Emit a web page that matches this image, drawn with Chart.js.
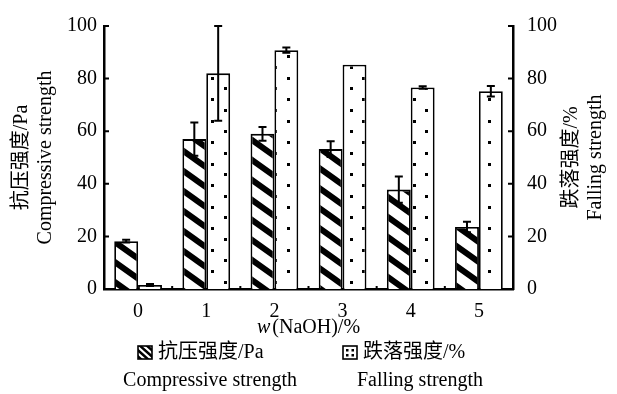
<!DOCTYPE html>
<html><head><meta charset="utf-8">
<script src="https://cdn.jsdelivr.net/npm/chart.js@4/dist/chart.umd.min.js"></script>
<style>html,body{margin:0;padding:0;background:#fff}#wrap{width:617px;height:394px}</style>
</head><body><div id="wrap"><canvas id="c" width="617" height="394"></canvas></div>
<script>
const categories = ['0', '1', '2', '3', '4', '5'];
const compressive = [18.2, 57, 59, 53.2, 37.8, 23.6];
const compressiveErr = [0.5, 6.3, 2.6, 3, 5, 2];
const falling = [1.5, 82, 90.8, 85.3, 76.6, 75.2];
const fallingErr = [0.4, 18, 1, 0, 0.5, 2];
const yTicks = [0, 20, 40, 60, 80, 100];
const compressiveName = ['抗压强度/Pa', 'Compressive strength'];
const fallingName = ['跌落强度/%', 'Falling strength'];
const xTitleItalic = 'w';
const xTitleRest = '(NaOH)/%';

const FONT = "'Liberation Serif', 'Noto Sans CJK SC', serif";

function hatchPattern() {
  const W = 28, H = 20;
  const cv = document.createElement('canvas');
  cv.width = W; cv.height = H;
  const g = cv.getContext('2d');
  g.fillStyle = '#fff'; g.fillRect(0, 0, W, H);
  g.strokeStyle = '#000'; g.lineWidth = 6;
  g.beginPath();
  for (let k = -1; k <= 1; k++) { g.moveTo(-2, k * H - 2 * H / W); g.lineTo(W + 2, (k + 1) * H + 2 * H / W); }
  g.stroke();
  return g.createPattern(cv, 'repeat');
}
const hatch = hatchPattern();

function drawDots(ctx, l, t, r, b) {
  const colStep = 12.6, rowStep = 21.5, x0 = 212, y0 = 56;
  ctx.save();
  ctx.beginPath(); ctx.rect(l, t, r - l, b - t); ctx.clip();
  ctx.fillStyle = '#000';
  const kStart = Math.floor((l - x0) / colStep) - 1, kEnd = Math.ceil((r - x0) / colStep) + 1;
  for (let k = kStart; k <= kEnd; k++) {
    const x = Math.round(x0 + k * colStep);
    const off = (Math.abs(k) % 2) ? rowStep / 2 : 0;
    const mStart = Math.floor((t - y0 - off) / rowStep) - 1, mEnd = Math.ceil((b - y0 - off) / rowStep) + 1;
    for (let m = mStart; m <= mEnd; m++) {
      const y = Math.round(y0 + off + m * rowStep);
      ctx.fillRect(x - 1, y - 1, 3, 3);
    }
  }
  ctx.restore();
}

const deco = {
  id: 'deco',
  afterDatasetsDraw(chart) {
    const ctx = chart.ctx;
    const fm = chart.getDatasetMeta(1);
    fm.data.forEach(bar => {
      const p = bar.getProps(['x', 'y', 'base', 'width'], true);
      const bw = 1.8;
      drawDots(ctx, p.x - p.width / 2 + bw, p.y + bw, p.x + p.width / 2 - bw, p.base);
    });
    const sets = [[0, compressive, compressiveErr, chart.scales.y], [1, falling, fallingErr, chart.scales.y1]];
    ctx.save();
    ctx.strokeStyle = '#000'; ctx.lineWidth = 2;
    sets.forEach(([di, vals, errs, sc]) => {
      const meta = chart.getDatasetMeta(di);
      meta.data.forEach((bar, i) => {
        const e = errs[i]; if (!e) return;
        const yt = sc.getPixelForValue(vals[i] + e), yb = sc.getPixelForValue(vals[i] - e);
        ctx.beginPath();
        ctx.moveTo(bar.x, yt); ctx.lineTo(bar.x, yb);
        ctx.moveTo(bar.x - 4, yt); ctx.lineTo(bar.x + 4, yt);
        ctx.moveTo(bar.x - 4, yb); ctx.lineTo(bar.x + 4, yb);
        ctx.stroke();
      });
    });
    ctx.restore();
  },
  afterDraw(chart) {
    const ctx = chart.ctx, ca = chart.chartArea;
    const yL = chart.scales.y, yR = chart.scales.y1, xs = chart.scales.x;
    ctx.save();
    ctx.strokeStyle = '#000'; ctx.lineWidth = 2;
    ctx.beginPath();
    yTicks.forEach(v => {
      const p = yL.getPixelForValue(v);
      ctx.moveTo(ca.left, p); ctx.lineTo(ca.left + 5, p);
      const q = yR.getPixelForValue(v);
      ctx.moveTo(ca.right, q); ctx.lineTo(ca.right - 5, q);
    });
    const half = (xs.getPixelForValue(1) - xs.getPixelForValue(0)) / 2;
    for (let i = 0; i < categories.length - 1; i++) {
      const px = xs.getPixelForValue(i) + half;
      ctx.moveTo(px, ca.bottom); ctx.lineTo(px, ca.bottom - 3);
    }
    ctx.stroke();

    ctx.fillStyle = '#000';
    ctx.font = '20px ' + FONT;
    ctx.textAlign = 'center'; ctx.textBaseline = 'middle';
    const midY = (ca.top + ca.bottom) / 2;
    [[compressiveName[0], ca.left - 82], [compressiveName[1], ca.left - 58],
     [fallingName[0], ca.right + 59], [fallingName[1], ca.right + 83]].forEach(([t, x]) => {
      ctx.save(); ctx.translate(x, midY); ctx.rotate(-Math.PI / 2); ctx.fillText(t, 0, 0); ctx.restore();
    });
    const cx = (ca.left + ca.right) / 2, ty = ca.bottom + 39;
    ctx.font = 'italic 20px ' + FONT;
    const wi = ctx.measureText(xTitleItalic).width;
    ctx.font = '20px ' + FONT;
    const wr = ctx.measureText(xTitleRest).width;
    const x0 = cx - (wi + wr + 2) / 2;
    ctx.textAlign = 'left';
    ctx.font = 'italic 20px ' + FONT;
    ctx.fillText(xTitleItalic, x0, ty);
    ctx.font = '20px ' + FONT;
    ctx.fillText(xTitleRest, x0 + wi + 2, ty);

    const ly = ca.bottom + 64, ly2 = ca.bottom + 92;
    const items = [[compressiveName, 138, 210], [fallingName, 343, 420]];
    items.forEach(([names, sx, c2], k) => {
      const sy = ly - 7;
      ctx.fillStyle = '#fff'; ctx.fillRect(sx, sy, 14, 13);
      if (k === 0) {
        ctx.save(); ctx.beginPath(); ctx.rect(sx, sy, 14, 13); ctx.clip();
        ctx.strokeStyle = '#000'; ctx.lineWidth = 2.5; ctx.beginPath();
        for (let d = -12; d <= 12; d += 7) { ctx.moveTo(sx + d - 2, sy - 2); ctx.lineTo(sx + d + 17, sy + 15); }
        ctx.stroke(); ctx.restore();
      } else {
        ctx.fillStyle = '#000';
        [[3, 3], [8.5, 3], [3, 8], [8.5, 8]].forEach(([dx, dy]) => ctx.fillRect(sx + dx, sy + dy, 2.5, 2.5));
      }
      ctx.strokeStyle = '#000'; ctx.lineWidth = 1.6;
      ctx.strokeRect(sx, sy, 14, 13);
      ctx.fillStyle = '#000';
      ctx.textAlign = 'left';
      ctx.fillText(names[0], sx + 20, ly);
      ctx.textAlign = 'center';
      ctx.fillText(names[1], c2, ly2);
    });
    ctx.restore();
  }
};

new Chart(document.getElementById('c'), {
  type: 'bar',
  data: {
    labels: categories,
    datasets: [
      { label: compressiveName.join(' '), data: compressive, yAxisID: 'y', backgroundColor: hatch, borderColor: '#000', borderWidth: 1.8, categoryPercentage: 0.7, barPercentage: 1.0 },
      { label: fallingName.join(' '), data: falling, yAxisID: 'y1', backgroundColor: '#fff', borderColor: '#000', borderWidth: 1.8, categoryPercentage: 0.7, barPercentage: 1.0 }
    ]
  },
  options: {
    responsive: false,
    animation: false,
    layout: { padding: { top: 17, left: 0, right: 0, bottom: 0 } },
    plugins: { legend: { display: false }, tooltip: { enabled: false } },
    scales: {
      x: {
        grid: { display: false, drawTicks: false },
        border: { display: true, color: '#000', width: 2.5 },
        ticks: { color: '#000', font: { family: FONT, size: 20 }, padding: 11 },
        afterFit(s) { s.height = 105; }
      },
      y: {
        position: 'left', min: 0, max: 100,
        afterBuildTicks(s) { s.ticks = yTicks.map(v => ({ value: v })); },
        grid: { display: false, drawTicks: false },
        border: { display: true, color: '#000', width: 2.5 },
        ticks: { color: '#000', font: { family: FONT, size: 20 }, padding: 7 },
        afterFit(s) { s.width = 104; }
      },
      y1: {
        position: 'right', min: 0, max: 100,
        afterBuildTicks(s) { s.ticks = yTicks.map(v => ({ value: v })); },
        grid: { display: false, drawTicks: false },
        border: { display: true, color: '#000', width: 2.5 },
        ticks: { color: '#000', font: { family: FONT, size: 20 }, padding: 14 },
        afterFit(s) { s.width = 104; }
      }
    }
  },
  plugins: [deco]
});
</script>
</body></html>
